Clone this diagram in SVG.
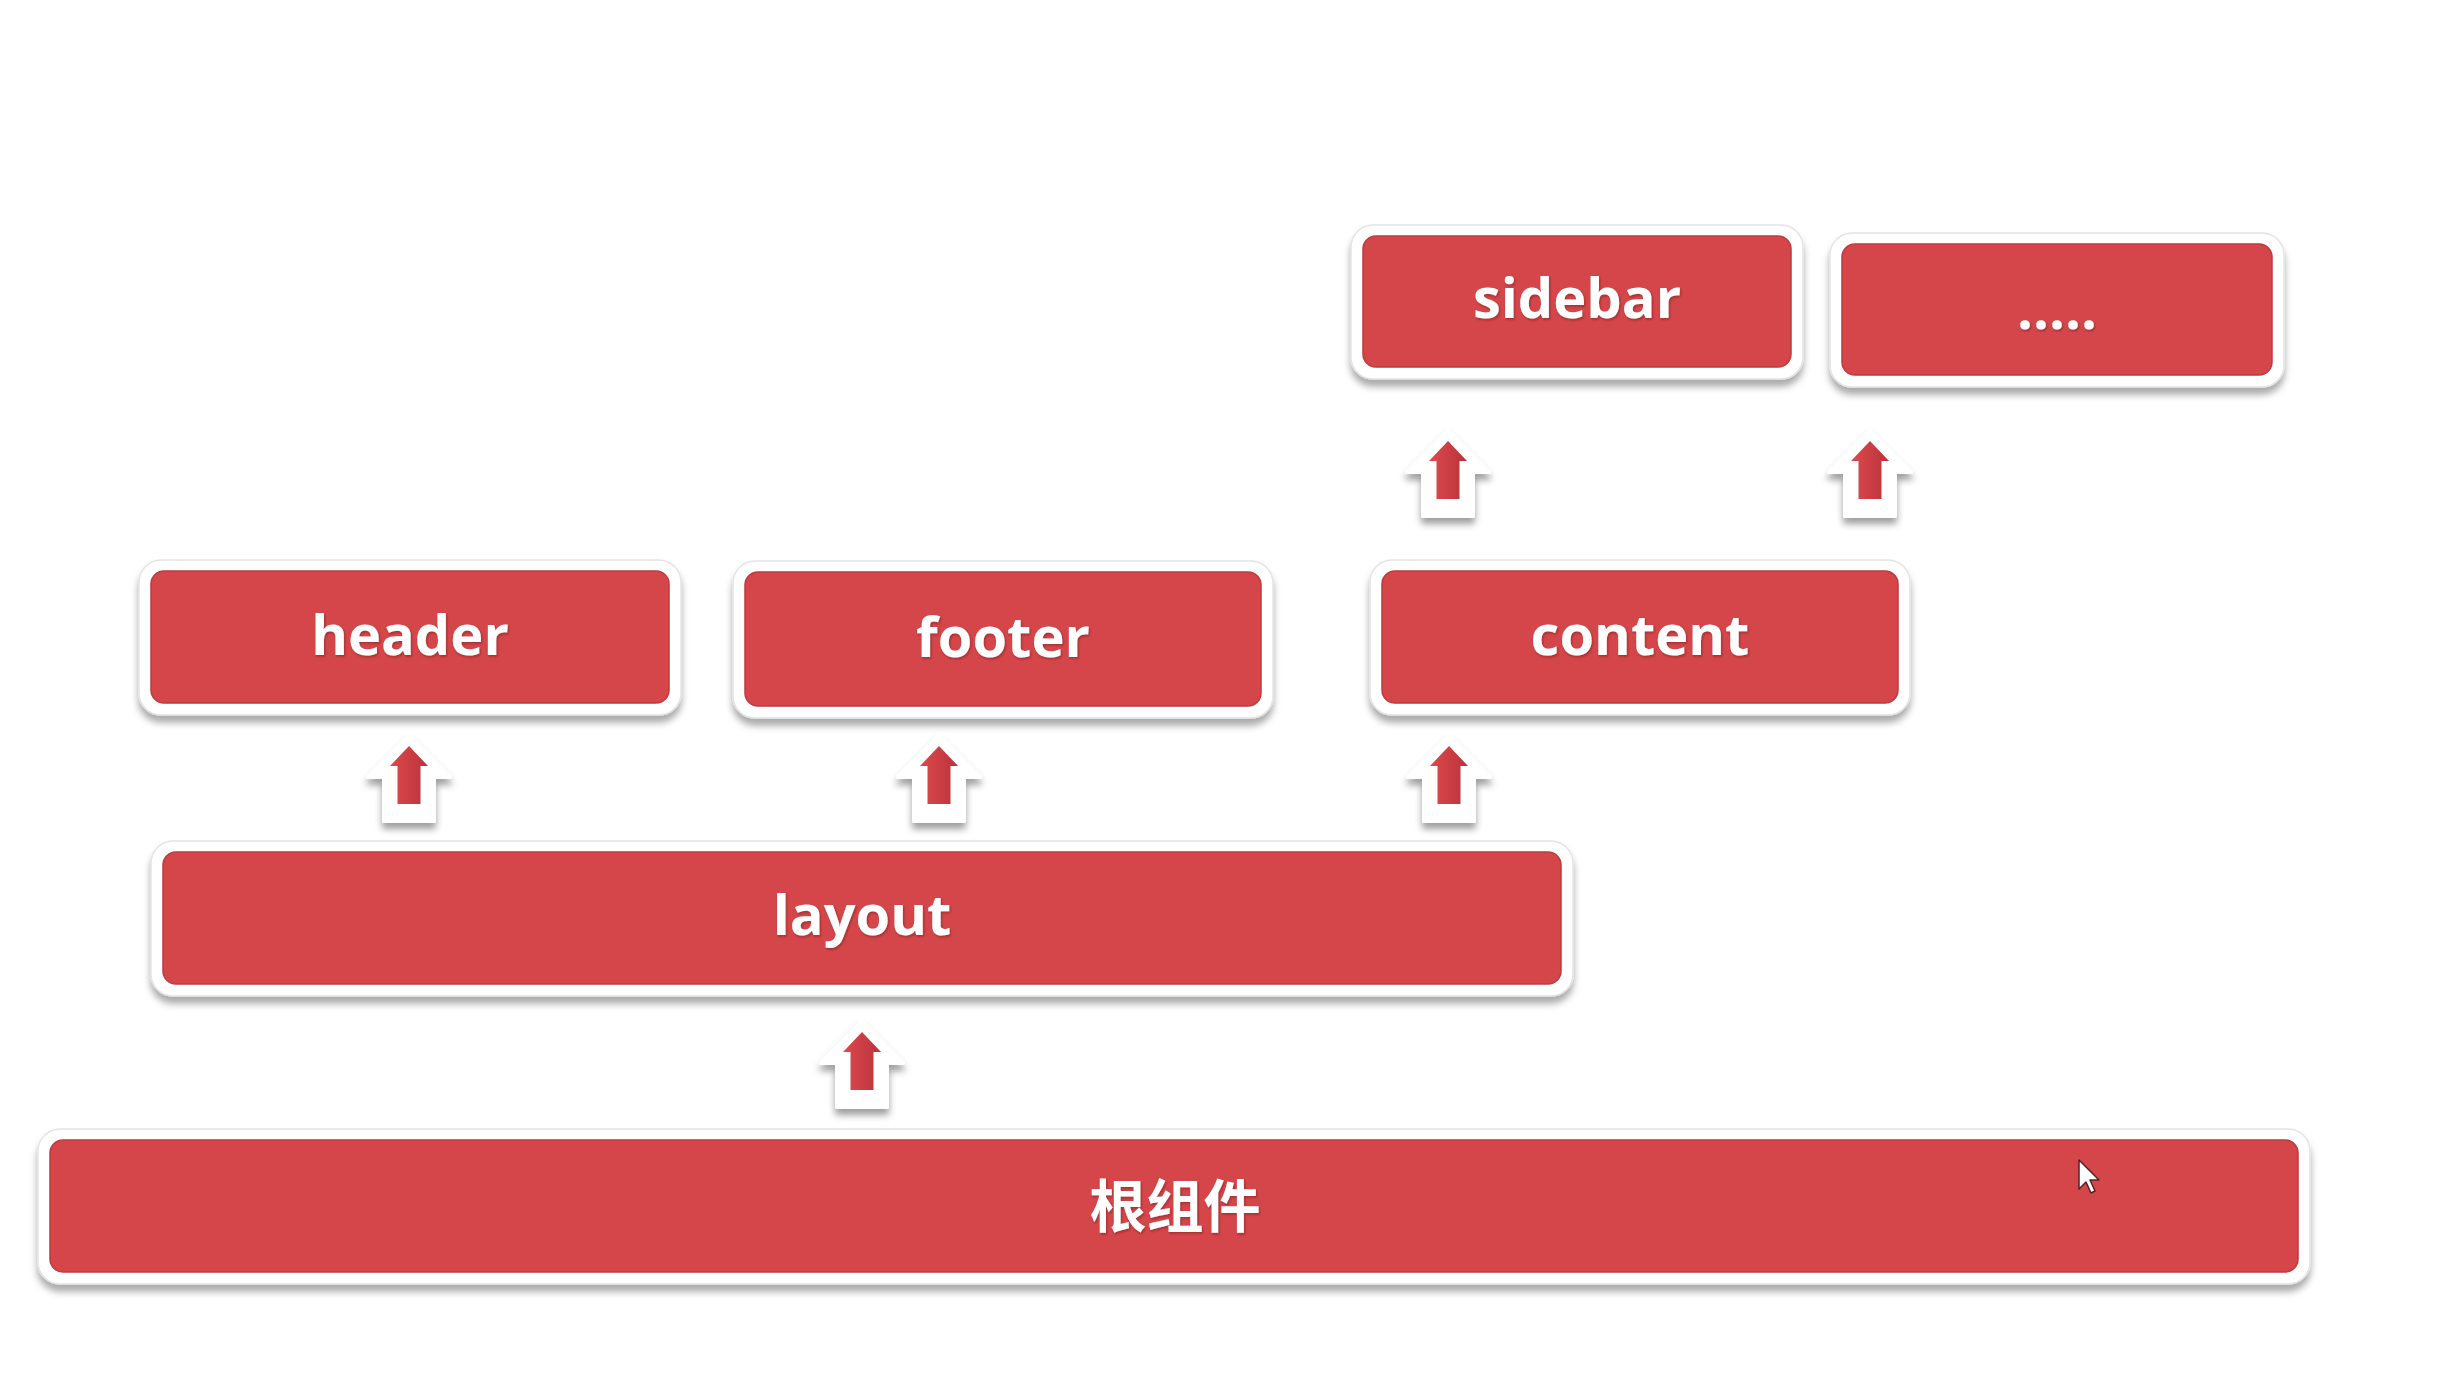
<svg xmlns="http://www.w3.org/2000/svg" xmlns:xlink="http://www.w3.org/1999/xlink" width="2438" height="1397" viewBox="0 0 2438 1397">
<defs>
<filter id="sh" x="-10%" y="-30%" width="120%" height="170%">
<feDropShadow dx="0" dy="7" stdDeviation="3.5" flood-color="#000" flood-opacity="0.33"/>
</filter>
<filter id="ash" x="-50%" y="-50%" width="200%" height="200%">
<feDropShadow dx="0" dy="6" stdDeviation="3.5" flood-color="#000" flood-opacity="0.38"/>
</filter>
<filter id="tsh" x="-10%" y="-30%" width="120%" height="160%">
<feDropShadow dx="1" dy="1.5" stdDeviation="1" flood-color="#6a1010" flood-opacity="0.5"/>
</filter>
<linearGradient id="ag" x1="0" y1="0" x2="1" y2="0">
<stop offset="0" stop-color="#dd4a4e"/>
<stop offset="1" stop-color="#b8333a"/>
</linearGradient>
<g id="arrow">
<polygon points="0,-10 41,31 25,31 25,75 -25,75 -25,31 -41,31" fill="#fff" stroke="#fff" stroke-width="4" stroke-linejoin="round" filter="url(#ash)"/>
<polygon points="0,0 19,20 11.5,20 11.5,58 -11.5,58 -11.5,20 -19,20" fill="url(#ag)"/>
</g>
</defs>
<style>
.frame{fill:#fff;stroke:#e4e4e4;stroke-width:1.5;filter:url(#sh)}
.box{fill:#d4464a;stroke:#bf3a3e;stroke-width:1.5}
.lbl{fill:#fff;font-family:"Open Sans","Noto Sans",sans-serif;font-weight:700;font-size:56px;text-anchor:middle;filter:url(#tsh)}
.cjk{font-family:"Noto Sans CJK SC","Noto Sans",sans-serif;font-size:57px}
</style>
<rect width="2438" height="1397" fill="#fff"/>

<g id="sidebar">
<rect class="frame" x="1351" y="225" width="452" height="154" rx="22"/>
<rect class="box" x="1363" y="236" width="428" height="131" rx="13"/>
<text class="lbl" x="1577" y="318">sidebar</text>
</g>
<g id="more">
<rect class="frame" x="1830" y="233" width="454" height="154" rx="22"/>
<rect class="box" x="1842" y="244" width="430" height="131" rx="13"/>
<text class="lbl" x="2057" y="329">.....</text>
</g>
<g id="header">
<rect class="frame" x="139" y="560" width="542" height="155" rx="22"/>
<rect class="box" x="151" y="571" width="518" height="132" rx="13"/>
<text class="lbl" x="410" y="655">header</text>
</g>
<g id="footer">
<rect class="frame" x="733" y="561" width="540" height="157" rx="22"/>
<rect class="box" x="745" y="572" width="516" height="134" rx="13"/>
<text class="lbl" x="1003" y="657">footer</text>
</g>
<g id="content">
<rect class="frame" x="1370" y="560" width="540" height="155" rx="22"/>
<rect class="box" x="1382" y="571" width="516" height="132" rx="13"/>
<text class="lbl" x="1640" y="655">content</text>
</g>
<g id="layout">
<rect class="frame" x="151" y="841" width="1422" height="155" rx="22"/>
<rect class="box" x="163" y="852" width="1398" height="132" rx="13"/>
<text class="lbl" x="862" y="935">layout</text>
</g>
<g id="root">
<rect class="frame" x="38" y="1129" width="2272" height="155" rx="22"/>
<rect class="box" x="50" y="1140" width="2248" height="132" rx="13"/>
<text class="lbl cjk" x="1175" y="1227">根组件</text>
</g>

<g id="connectors">
<use xlink:href="#arrow" transform="translate(409,746)"/>
<use xlink:href="#arrow" transform="translate(939,746)"/>
<use xlink:href="#arrow" transform="translate(1449,746)"/>
<use xlink:href="#arrow" transform="translate(1448,441)"/>
<use xlink:href="#arrow" transform="translate(1870,441)"/>
<use xlink:href="#arrow" transform="translate(862,1032)"/>
</g>

<path d="M2079,1160 L2079,1189 L2086,1182 L2091,1193 L2095,1191 L2090,1180 L2099,1180 Z" fill="#fff" stroke="#5a1f22" stroke-width="1.5" stroke-linejoin="round"/>
</svg>
